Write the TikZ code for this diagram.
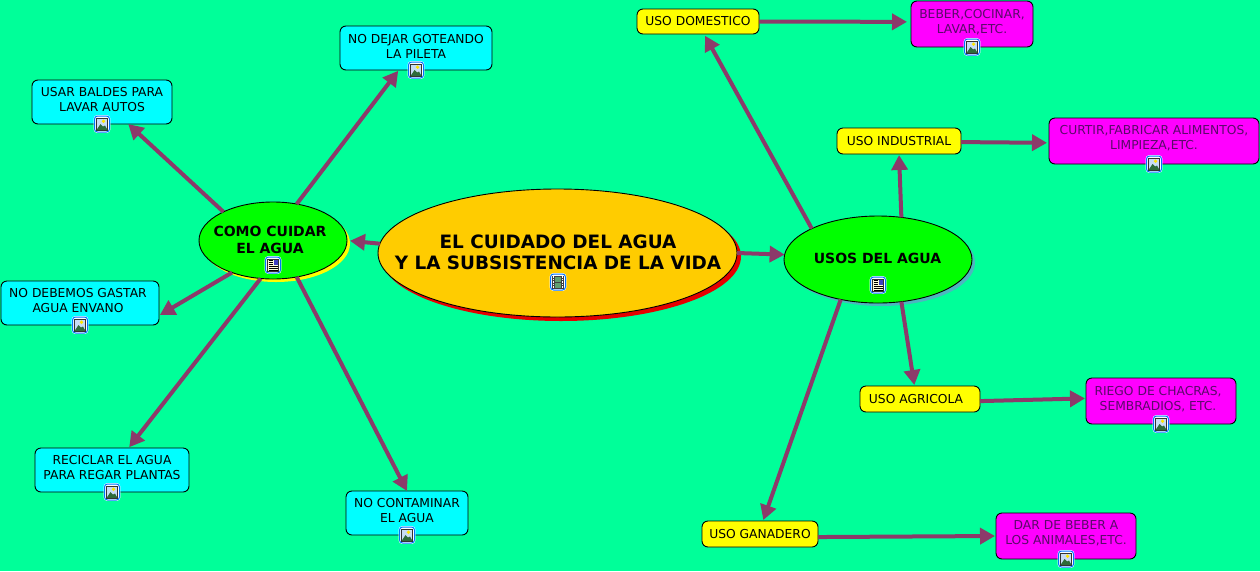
\documentclass[tikz,border=0pt]{standalone}
\usepackage{fontspec}
\setmainfont{DejaVu Sans}
\usetikzlibrary{arrows.meta,shapes.geometric}
\definecolor{bgc}{HTML}{00FF99}
\definecolor{linkc}{HTML}{8C3A6A}
\definecolor{cyanc}{HTML}{00FFFF}
\definecolor{yelc}{HTML}{FFFF00}
\definecolor{magc}{HTML}{FF00FF}
\definecolor{orgc}{HTML}{FFCC00}
\definecolor{grnc}{HTML}{00FF00}
\definecolor{shteal}{HTML}{4DB6C0}
\definecolor{magtxt}{HTML}{5A0A6A}
\definecolor{skyc}{HTML}{C8DCF5}
\definecolor{hillc}{HTML}{2E6B3A}
\definecolor{filmc}{HTML}{5FA070}
\tikzset{
 x=1pt,y=-1pt,
 conbox/.style={draw=black,line width=0.9pt,rounded corners=6pt,inner sep=0pt,outer sep=0pt},
 cybox/.style={conbox,fill=cyanc},
 yebox/.style={conbox,fill=yelc},
 mabox/.style={conbox,fill=magc},
 oval/.style={draw=black,line width=0.9pt,ellipse,inner sep=0pt,outer sep=0pt},
 lab/.style={align=center,inner sep=0pt,font=\fontsize{12.3}{15}\selectfont},
 blab/.style={align=center,inner sep=0pt,font=\bfseries\fontsize{14}{17}\selectfont},
 link/.style={draw=linkc,line width=4pt,-{Triangle[length=15pt,width=16pt]}},
 pics/iconbase/.style={code={
   \draw[draw=white,fill=white,rounded corners=3pt,line width=0.6pt] (-8,-8.5) rectangle (8,8.5);
   \draw[draw=blue!55!cyan,rounded corners=3pt,line width=1pt] (-7.5,-8) rectangle (7.5,8);
 }},
 pics/imgicon/.style={code={
   \pic {iconbase};
   \fill[skyc] (-5.5,-6) rectangle (5.5,6);
   \fill[yelc!80!orange] (1.5,-2.8) circle (1.8pt);
   \fill[hillc] (-5.5,6) -- (-1.5,0) -- (1,2.5) -- (3,1.5) -- (5.5,6) -- cycle;
   \draw[black!80,line width=0.8pt] (-5.5,-6) rectangle (5.5,6);
 }},
 pics/docicon/.style={code={
   \pic {iconbase};
   \fill[white!85!yellow] (-5.5,-6) rectangle (5.5,6);
   \fill[blue!50!gray] (0.5,-5) rectangle (5,-0.5);
   \foreach \yy in {-4.5,-2.5,-0.5}{\draw[black,line width=0.8pt] (-4.5,\yy) -- (-0.5,\yy);}
   \foreach \yy in {1.5,3.2,5}{\draw[black,line width=0.8pt] (-4.5,\yy) -- (4.5,\yy);}
   \draw[black!80,line width=0.8pt] (-5.5,-6) rectangle (5.5,6);
 }},
 pics/filmicon/.style={code={
   \pic {iconbase};
   \fill[black!75] (-6,-6.5) rectangle (6,6.5);
   \fill[filmc] (-3,-5.5) rectangle (3,-0.5);
   \fill[filmc] (-3,0.5) rectangle (3,5.5);
   \foreach \yy in {-5,-2.5,0,2.5,5}{\fill[white] (-5,\yy-0.6) rectangle (-4,\yy+0.6);\fill[white] (4,\yy-0.6) rectangle (5,\yy+0.6);}
 }},
}
\begin{document}
\begin{tikzpicture}
\useasboundingbox (0,0) rectangle (1260,571);
\fill[bgc] (0,0) rectangle (1260,571);

% shadows
\fill[red!90!black] (561,256.5) ellipse [x radius=180, y radius=64.5];
\fill[yelc] (276,243.5) ellipse [x radius=74, y radius=38.5];
\fill[shteal] (881,262.5) ellipse [x radius=94, y radius=43.5];

% ovals
\node[oval,fill=orgc,minimum width=359pt,minimum height=128pt] (main) at (557.5,253) {};
\node[oval,fill=grnc,minimum width=148pt,minimum height=77pt] (como) at (273,240.5) {};
\node[oval,fill=grnc,minimum width=188pt,minimum height=87pt] (usos) at (878,259.5) {};

% concept boxes
\node[cybox,minimum width=152pt,minimum height=44pt] (dejar) at (416,48) {};
\node[cybox,minimum width=140pt,minimum height=44pt] (baldes) at (102,102) {};
\node[cybox,minimum width=158pt,minimum height=44pt] (gastar) at (80,303) {};
\node[cybox,minimum width=154pt,minimum height=44pt] (reciclar) at (112,470) {};
\node[cybox,minimum width=122pt,minimum height=44pt] (contam) at (407,513) {};
\node[yebox,minimum width=122pt,minimum height=25pt] (domes) at (698,21.5) {};
\node[yebox,minimum width=124pt,minimum height=26pt] (indus) at (899,141) {};
\node[yebox,minimum width=120pt,minimum height=26pt] (agric) at (920,399) {};
\node[yebox,minimum width=116pt,minimum height=26pt] (ganad) at (760,534) {};
\node[mabox,minimum width=122pt,minimum height=46pt] (beber) at (972,24) {};
\node[mabox,minimum width=210pt,minimum height=46pt] (curtir) at (1154,141) {};
\node[mabox,minimum width=150pt,minimum height=46pt] (riego) at (1161,401) {};
\node[mabox,minimum width=140pt,minimum height=46pt] (darb) at (1066,536) {};

% connectors
\draw[link,shorten >=3pt] (main.177.4) -- (como.-0.4);
\draw[link] (main.-0.3) -- (usos.177.9);
\draw[link,shorten >=1pt] (como.57.8) -- (dejar.-128.05);
\draw[link] (como.150.7) -- (baldes.-40.2);
\draw[link,shorten >=1pt] (como.-142.1) -- (gastar.-9.2);
\draw[link,shorten >=1pt] (como.-108.6) -- (reciclar.53.5);
\draw[link] (como.-57.9) -- (contam.90);
\draw[link,shorten >=2pt] (usos.155.5) -- (domes.-64.2);
\draw[link,shorten >=1pt] (usos.61.6) -- (indus.-90);
\draw[link,shorten >=1pt] (usos.-61.7) -- (agric.113.2);
\draw[link,shorten >=1pt] (usos.-133.3) -- (ganad.77.9);
\draw[link,shorten >=4pt] (domes.-0.5) -- (beber.178.2);
\draw[link,shorten >=2pt] (indus.-1.8) -- (curtir.181.9);
\draw[link,shorten >=1pt] (agric.-2.9) -- (riego.178.5);
\draw[link,shorten >=1pt] (ganad.-3.9) -- (darb.180);

% texts
\node[blab,font=\bfseries\fontsize{18.4}{21}\selectfont] (maint) at (558,252) {EL CUIDADO DEL AGUA\\Y LA SUBSISTENCIA DE LA VIDA};
\node[blab] (comot) at (270,240) {COMO CUIDAR\\EL AGUA};
\node[blab] (usost) at (877.5,258.5) {USOS DEL AGUA};
\node[lab] (dejart) at (416,46) {NO DEJAR GOTEANDO\\LA PILETA};
\node[lab] (baldest) at (102,100) {USAR BALDES PARA\\LAVAR AUTOS};
\node[lab] (gastart) at (78,301) {NO DEBEMOS GASTAR\\AGUA ENVANO};
\node[lab] (reciclart) at (112,468) {RECICLAR EL AGUA\\PARA REGAR PLANTAS};
\node[lab] (contamt) at (407,511) {NO CONTAMINAR\\EL AGUA};
\node[lab] (domest) at (698,21.5) {USO DOMESTICO};
\node[lab] (indust) at (899,141) {USO INDUSTRIAL};
\node[lab] (agrict) at (916,399) {USO AGRICOLA};
\node[lab] (ganadt) at (760,534) {USO GANADERO};
\node[lab,text=magtxt] (bebert) at (972,22) {BEBER,COCINAR,\\LAVAR,ETC.};
\node[lab,text=magtxt] (curtirt) at (1154,138) {CURTIR,FABRICAR ALIMENTOS,\\LIMPIEZA,ETC.};
\node[lab,text=magtxt] (riegot) at (1158,399) {RIEGO DE CHACRAS,\\SEMBRADIOS, ETC.};
\node[lab,text=magtxt] (dart) at (1066,533.5) {DAR DE BEBER A\\LOS ANIMALES,ETC.};

% icons
\pic at (558,282) {filmicon};
\pic at (273,265) {docicon};
\pic at (878,285) {docicon};
\pic at (416,70) {imgicon};
\pic at (102,124) {imgicon};
\pic at (80,325) {imgicon};
\pic at (112,492) {imgicon};
\pic at (407,535) {imgicon};
\pic at (972,47) {imgicon};
\pic at (1154,164) {imgicon};
\pic at (1161,424) {imgicon};
\pic at (1066,559) {imgicon};
\end{tikzpicture}
\end{document}
